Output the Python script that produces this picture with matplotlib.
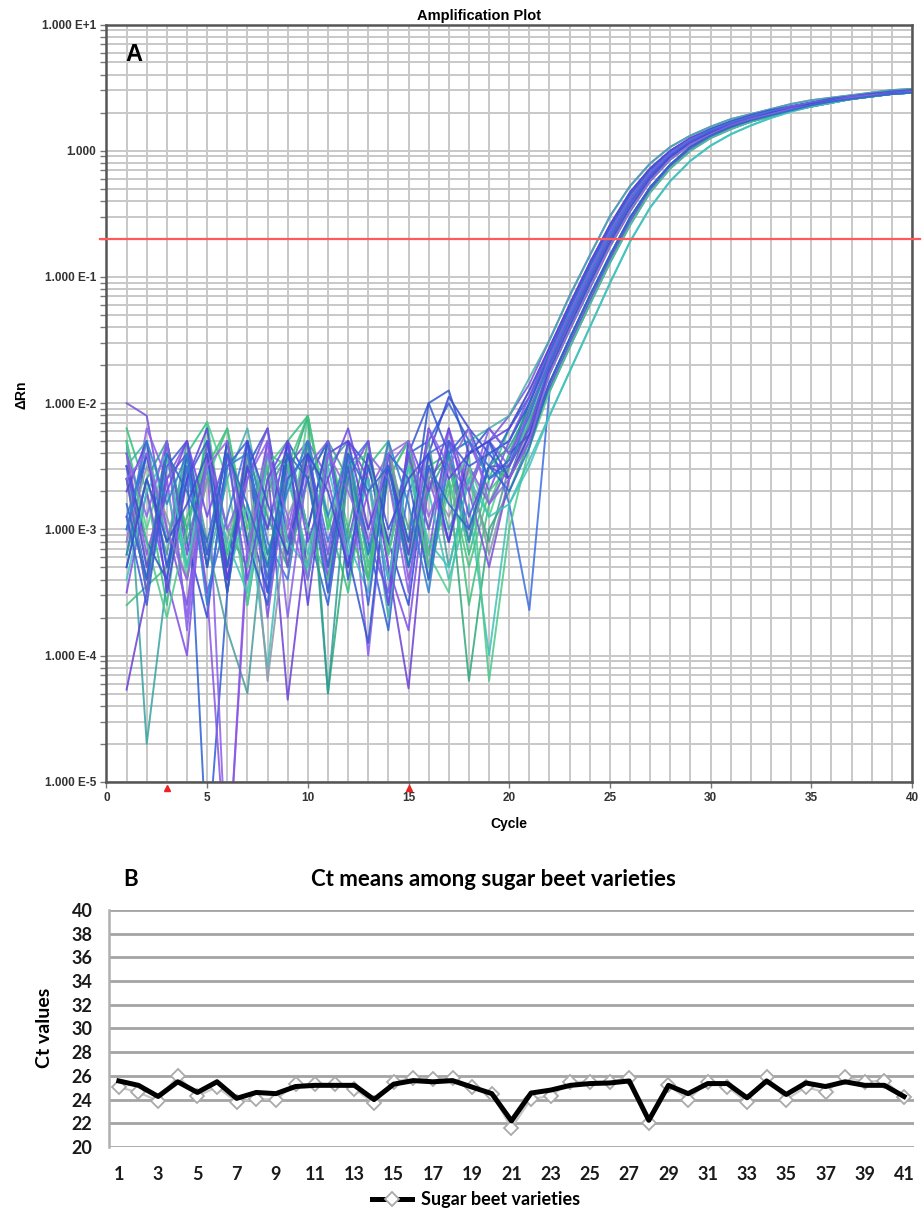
import matplotlib.pyplot as plt
import numpy as np
from matplotlib.lines import Line2D
from matplotlib.ticker import FixedLocator, LogLocator, NullFormatter

plt.rcParams['font.family'] = ['Liberation Sans', 'DejaVu Sans']

# -------------------------------
# Panel A data: log10(dRn) per cycle
# -------------------------------
threshold = 0.2
baseline_start, baseline_end = 3, 15
a_xticks = list(range(0, 41, 5))
a_ylabels = ['1.000 E-5', '1.000 E-4', '1.000 E-3', '1.000 E-2',
             '1.000 E-1', '1.000', '1.000 E+1']

# cycles 1-21 (noisy baseline)
baseline_log = [
    [-2.0, -2.1, -3.0, -3.6, -2.4, -3.3, -2.3, -3.7, -2.5, -2.3, -3.4, -2.4, -3.1, -3.5, -2.3, -3.2, -2.2, -2.7, -2.3, -2.1, -1.85],
    [-2.2, -2.7, -3.6, -2.4, -2.15, -3.2, -2.4, -3.3, -2.3, -2.1, -2.9, -3.5, -2.5, -2.3, -3.3, -2.5, -2.4, -3.2, -2.6, -2.2, -1.9],
    [-3.2, -2.4, -3.1, -2.5, -5.6, -3.5, -2.5, -3.4, -2.3, -3.0, -3.6, -2.5, -3.1, -3.8, -2.4, -2.3, -2.0, -2.3, -2.5, -2.2, -1.95],
    [-2.3, -4.7, -3.4, -2.5, -3.2, -2.3, -3.6, -2.6, -2.4, -3.4, -2.5, -2.3, -3.3, -2.4, -3.2, -2.4, -3.0, -2.6, -2.4, -2.3, -2.0],
    [-3.1, -2.2, -2.6, -3.7, -2.4, -5.8, -3.1, -2.3, -3.0, -2.3, -3.4, -2.4, -4.0, -2.5, -2.3, -3.3, -2.5, -3.1, -2.3, -2.5, -2.05],
    [-2.3, -3.0, -2.4, -3.4, -2.15, -2.6, -3.6, -2.4, -3.2, -2.1, -3.0, -2.3, -3.3, -2.6, -2.3, -3.2, -3.5, -2.5, -2.9, -2.4, -2.1],
    [-2.6, -3.4, -2.3, -3.1, -3.7, -2.4, -2.9, -3.5, -2.3, -2.6, -3.3, -2.3, -2.5, -3.1, -3.6, -2.4, -1.95, -2.2, -2.4, -2.6, -2.15],
    [-3.3, -2.6, -3.2, -2.3, -3.1, -3.8, -4.3, -2.7, -2.4, -3.3, -2.3, -2.6, -3.4, -2.4, -3.0, -2.3, -3.3, -2.6, -3.1, -2.5, -2.2],
    [-4.27, -3.5, -2.6, -2.4, -3.3, -2.3, -3.1, -2.5, -4.35, -3.0, -2.3, -3.1, -2.4, -3.3, -4.26, -2.6, -2.4, -3.0, -2.5, -2.6, -2.25],
    [-2.4, -3.3, -2.4, -3.0, -2.3, -3.3, -2.4, -3.2, -2.6, -2.1, -4.3, -3.0, -2.3, -3.2, -2.4, -3.4, -2.6, -4.2, -3.0, -2.7, -2.3],
    [-2.9, -2.4, -3.3, -2.5, -3.5, -2.9, -2.3, -3.1, -3.4, -2.4, -3.1, -2.5, -2.3, -3.6, -2.7, -2.4, -2.3, -3.1, -2.3, -2.8, -3.64],
    [-2.5, -3.5, -2.7, -3.3, -2.5, -3.4, -2.8, -4.1, -2.6, -3.2, -2.4, -3.1, -3.5, -2.5, -3.2, -2.7, -3.4, -2.8, -4.0, -2.8, -2.45],
    [-2.5, -2.3, -3.1, -2.4, -3.3, -2.6, -2.2, -3.0, -2.5, -3.4, -2.3, -3.1, -2.6, -3.7, -2.4, -3.0, -2.4, -2.3, -2.2, -2.1, -1.8],
    [-3.5, -2.7, -3.4, -4.0, -2.3, -3.0, -3.3, -2.3, -3.1, -2.4, -3.5, -2.6, -2.3, -3.3, -3.8, -2.5, -3.1, -2.3, -2.7, -2.3, -1.95],
    [-3.6, -3.45, -3.3, -2.9, -2.5, -2.2, -3.1, -2.5, -3.3, -2.6, -2.3, -3.0, -3.4, -2.4, -3.1, -2.6, -2.4, -3.6, -2.8, -2.4, -2.0],
    [-3.0, -2.4, -3.3, -2.6, -2.3, -3.3, -2.5, -2.2, -3.1, -2.6, -2.3, -3.4, -2.5, -3.1, -2.4, -2.0, -2.4, -2.2, -2.6, -2.45, -2.0],
    [-2.4, -3.2, -2.6, -2.3, -3.5, -5.8, -3.2, -2.4, -3.1, -2.3, -2.6, -3.3, -2.7, -2.4, -3.4, -2.6, -3.1, -2.5, -2.8, -2.5, -2.05],
    [-3.2, -2.6, -2.3, -3.1, -2.5, -3.5, -2.4, -2.9, -3.3, -2.3, -4.3, -2.5, -3.2, -2.6, -3.3, -2.7, -2.4, -3.1, -2.5, -2.35, -2.05],
    [-2.6, -3.5, -2.4, -3.3, -2.6, -2.2, -3.0, -2.4, -2.5, -2.1, -3.0, -2.5, -3.4, -2.6, -2.3, -3.2, -2.6, -3.3, -2.7, -2.5, -2.15],
    [-3.1, -2.5, -2.9, -3.4, -2.6, -3.1, -2.4, -4.2, -2.9, -2.5, -3.3, -2.5, -3.0, -2.3, -3.2, -2.6, -2.9, -2.5, -3.2, -2.6, -2.2],
    [-2.5, -3.1, -3.4, -2.4, -3.3, -2.3, -3.1, -3.6, -2.4, -3.0, -2.3, -3.2, -3.9, -2.5, -3.1, -2.0, -1.9, -2.4, -2.2, -2.4, -2.25],
    [-2.6, -3.5, -2.3, -3.2, -2.4, -3.4, -2.6, -2.2, -3.3, -2.4, -3.2, -2.3, -2.6, -3.4, -2.4, -3.0, -2.3, -2.7, -3.3, -2.6, -2.3],
    [-2.3, -3.1, -3.7, -3.0, -2.4, -3.0, -3.3, -2.5, -2.3, -3.0, -3.4, -2.5, -2.4, -3.2, -2.5, -3.3, -2.7, -2.4, -4.2, -3.0, -2.35],
    [-3.4, -2.7, -2.4, -3.3, -2.5, -3.1, -3.5, -2.4, -3.1, -3.3, -2.5, -3.2, -2.6, -3.4, -2.5, -3.1, -3.3, -2.6, -2.9, -2.8, -2.5],
    [-2.7, -2.3, -3.5, -2.6, -2.2, -3.4, -2.5, -3.0, -2.3, -3.6, -2.4, -2.3, -3.0, -2.5, -3.2, -2.2, -2.6, -2.4, -2.3, -2.2, -1.9],
    [-2.9, -3.6, -2.5, -2.3, -3.2, -2.5, -2.3, -3.5, -2.6, -2.4, -3.3, -2.5, -3.6, -2.4, -2.6, -3.4, -2.3, -2.5, -2.4, -2.3, -2.0],
    [-2.4, -2.9, -2.3, -3.8, -2.4, -3.0, -2.6, -2.3, -3.7, -2.5, -2.3, -3.3, -2.4, -2.6, -3.5, -2.2, -2.5, -2.7, -2.2, -2.4, -2.1],
    [-3.0, -2.3, -2.8, -2.4, -3.6, -2.5, -2.4, -3.2, -2.7, -2.3, -2.9, -2.4, -3.2, -2.3, -2.8, -3.5, -2.4, -2.3, -2.6, -2.5, -2.1],
    [-2.5, -3.3, -2.7, -2.3, -2.9, -2.4, -3.4, -2.6, -2.3, -3.1, -2.6, -2.2, -2.8, -3.6, -2.3, -2.7, -2.2, -2.9, -2.5, -2.5, -2.2],
    [-3.3, -2.6, -3.1, -2.8, -2.4, -3.5, -2.3, -2.8, -3.2, -2.4, -2.7, -3.3, -2.4, -3.0, -2.6, -2.4, -3.1, -2.4, -2.3, -2.6, -2.25],
    [-2.6, -2.4, -3.0, -3.4, -2.5, -2.3, -3.2, -2.4, -2.9, -3.4, -2.4, -2.7, -3.1, -2.4, -2.3, -2.9, -2.5, -2.2, -2.8, -2.6, -2.3],
    [-2.8, -3.4, -2.4, -2.7, -3.1, -2.4, -2.8, -3.3, -2.4, -2.6, -3.5, -2.4, -2.7, -2.5, -3.3, -2.5, -2.8, -3.0, -2.5, -2.7, -2.35],
]

# cycles 22-40 (exponential phase and plateau)
growth_log = [
    [-1.50, -1.15, -0.83, -0.52, -0.28, -0.10, 0.03, 0.12, 0.19, 0.25, 0.29, 0.33, 0.37, 0.40, 0.42, 0.44, 0.46, 0.48, 0.49],
    [-1.56, -1.22, -0.89, -0.59, -0.33, -0.14, 0.00, 0.10, 0.17, 0.23, 0.28, 0.32, 0.35, 0.38, 0.41, 0.43, 0.45, 0.46, 0.48],
    [-1.60, -1.25, -0.92, -0.61, -0.35, -0.15, -0.01, 0.09, 0.17, 0.23, 0.28, 0.32, 0.35, 0.38, 0.41, 0.43, 0.45, 0.47, 0.48],
    [-1.63, -1.29, -0.96, -0.64, -0.38, -0.17, -0.02, 0.09, 0.16, 0.22, 0.27, 0.31, 0.35, 0.38, 0.40, 0.43, 0.44, 0.46, 0.47],
    [-1.67, -1.32, -0.99, -0.67, -0.40, -0.19, -0.03, 0.08, 0.16, 0.22, 0.27, 0.31, 0.34, 0.37, 0.40, 0.42, 0.44, 0.45, 0.47],
    [-1.70, -1.35, -1.02, -0.70, -0.42, -0.20, -0.04, 0.07, 0.15, 0.21, 0.26, 0.30, 0.34, 0.37, 0.40, 0.42, 0.44, 0.46, 0.47],
    [-1.74, -1.39, -1.05, -0.73, -0.45, -0.22, -0.05, 0.06, 0.14, 0.20, 0.25, 0.30, 0.33, 0.37, 0.39, 0.42, 0.44, 0.45, 0.47],
    [-1.77, -1.42, -1.09, -0.76, -0.48, -0.24, -0.07, 0.05, 0.13, 0.20, 0.25, 0.29, 0.33, 0.36, 0.39, 0.42, 0.44, 0.45, 0.47],
    [-1.84, -1.49, -1.15, -0.83, -0.53, -0.29, -0.11, 0.03, 0.12, 0.19, 0.24, 0.28, 0.32, 0.36, 0.39, 0.41, 0.43, 0.45, 0.46],
    [-1.88, -1.53, -1.19, -0.86, -0.56, -0.31, -0.12, 0.01, 0.11, 0.18, 0.23, 0.28, 0.32, 0.35, 0.38, 0.41, 0.43, 0.45, 0.46],
    [-1.91, -1.56, -1.22, -0.89, -0.59, -0.33, -0.14, 0.00, 0.10, 0.17, 0.23, 0.27, 0.32, 0.35, 0.38, 0.41, 0.43, 0.45, 0.46],
    [-2.10, -1.75, -1.40, -1.05, -0.72, -0.45, -0.24, -0.08, 0.04, 0.13, 0.20, 0.26, 0.31, 0.35, 0.38, 0.41, 0.43, 0.45, 0.46],
]
curve_growth = [0, 1, 2, 3, 4, 5, 6, 7, 8, 9, 10, 11,
                0, 1, 2, 3, 4, 5, 6, 7, 8, 9, 10, 11,
                1, 2, 3, 4, 5, 6, 7, 8]
curve_colors = ['#7a4fe0', '#2ec27e', '#2f5fd6', '#38a3a0', '#8b5cf0', '#4fd08f',
                '#3349d8', '#4a9a9a', '#6c3fd6', '#2fa878', '#3d6ee0', '#3fc0b8',
                '#44b0a8', '#7f4ee6', '#3cc07a', '#3658d2', '#8a55e0', '#2f9c96',
                '#45c47f', '#8a96a8', '#2f55cc', '#7650dc', '#4cc88a', '#40c4bc',
                '#5a3ee0', '#3a5ad8', '#8660e8', '#2e7fd0', '#6a48e4', '#3b4bd4',
                '#9068e0', '#2a6bc8']

# -------------------------------
# Panel B data: Ct means of 41 sugar beet varieties
# -------------------------------
varieties = list(range(1, 42))
ct_mean = [25.57, 25.2, 24.26, 25.5, 24.6, 25.5, 24.1, 24.6, 24.5, 25.1,
           25.2, 25.2, 25.2, 24.0, 25.3, 25.6, 25.5, 25.6, 25.05, 24.5,
           22.2, 24.55, 24.8, 25.2, 25.35, 25.4, 25.57, 22.25, 25.2, 24.5,
           25.35, 25.35, 24.15, 25.57, 24.43, 25.4, 25.1, 25.5, 25.2, 25.2,
           24.26]
ct_marker = [25.05, 24.6, 23.9, 26.0, 24.3, 25.05, 23.8, 24.05, 24.0, 25.3,
             25.3, 25.3, 24.9, 23.7, 25.5, 25.85, 25.7, 25.85, 25.05, 24.5,
             21.6, 24.05, 24.3, 25.5, 25.5, 25.5, 25.85, 22.05, 25.2, 24.0,
             25.5, 25.05, 23.8, 25.9, 24.0, 25.05, 24.6, 25.9, 25.5, 25.6,
             24.2]
b_yticks = list(range(20, 41, 2))
b_xticks = list(range(1, 42, 2))

fig = plt.figure(figsize=(9.24, 12.19), dpi=100)

# -------------------------------
# Panel A: amplification plot
# -------------------------------
axA = fig.add_axes([0.1152, 0.3587, 0.8718, 0.6212])
axA.set_yscale('log')
cycles = np.arange(1, 41)
for i, row in enumerate(baseline_log):
    vals = np.array(row + growth_log[curve_growth[i]])
    axA.plot(cycles, 10.0 ** vals, color=curve_colors[i], lw=1.4, alpha=0.85)

axA.axhline(threshold, xmin=-0.008, xmax=1.01, color='#ff5a5a', lw=1.6, clip_on=False, zorder=5)
axA.set_xlim(0, 40)
axA.set_ylim(1e-5, 1e1)
axA.set_xticks(a_xticks)
axA.set_xticks(range(0, 41), minor=True)
axA.yaxis.set_major_locator(FixedLocator([10.0 ** k for k in range(-5, 2)]))
axA.yaxis.set_minor_locator(LogLocator(base=10, subs=range(2, 10)))
axA.yaxis.set_minor_formatter(NullFormatter())
axA.set_yticklabels(a_ylabels)
axA.grid(True, which='both', color='#c8c8c8', lw=1.4)
axA.set_axisbelow(True)
for s in axA.spines.values():
    s.set_color('#555555')
    s.set_linewidth(1.8)
axA.tick_params(axis='both', which='both', colors='#777777', length=4, width=1,
                labelsize=8.5, labelcolor='#333333')
axA.tick_params(axis='x', which='minor', length=0)
for lab in axA.get_xticklabels() + axA.get_yticklabels():
    lab.set_fontweight('bold')

# baseline start/end flags
for bx in (baseline_start, baseline_end):
    axA.plot([bx], [-0.008], transform=axA.get_xaxis_transform(), marker='^', ms=5,
             color='#ee2222', clip_on=False, zorder=6)

fig.text(0.518, 1 - 23 / 1219, 'Amplification Plot', ha='center', va='bottom',
         fontsize=10.5, fontweight='bold')
axA.text(0.023, 0.975, 'A', transform=axA.transAxes, ha='left', va='top',
         fontsize=17, fontweight='bold')
fig.text(22 / 924, 1 - 395 / 1219, 'ΔRn', rotation=90, ha='center', va='center',
         fontsize=10, fontweight='bold')
fig.text(509 / 924, 1 - 824 / 1219, 'Cycle', ha='center', va='center',
         fontsize=10, fontweight='bold')

# -------------------------------
# Panel B: Ct means
# -------------------------------
axB = fig.add_axes([0.118, 0.0591, 0.871, 0.1944])
axB.plot(varieties, ct_marker, color='#c8c8c8', lw=1.5, marker='D', ms=7,
         mfc='white', mec='#aaaaaa', mew=1.3, zorder=3)
axB.plot(varieties, ct_mean, color='black', lw=3.6, zorder=4)
axB.set_xlim(0.5, 41.5)
axB.set_ylim(20, 40)
axB.set_yticks(b_yticks)
axB.set_xticks(b_xticks)
axB.grid(True, axis='y', color='#a4a4a4', lw=2.0)
axB.set_axisbelow(True)
for side in ('top', 'right', 'bottom'):
    axB.spines[side].set_visible(False)
axB.spines['left'].set_color('#b0b0b0')
axB.spines['left'].set_linewidth(1.8)
axB.tick_params(length=0, labelsize=13, labelcolor='#1a1a1a')
axB.tick_params(axis='y', pad=12)
axB.tick_params(axis='x', pad=14)
for lab in axB.get_xticklabels() + axB.get_yticklabels():
    lab.set_fontweight('bold')
    lab.set_family(['Lato', 'DejaVu Sans'])

fig.text(493 / 924, 1 - 880 / 1219, 'Ct means among sugar beet varieties',
         ha='center', va='center', fontsize=16, fontweight='bold', family=['Lato', 'DejaVu Sans'])
fig.text(123 / 924, 1 - 879 / 1219, 'B', ha='left', va='center',
         fontsize=16, fontweight='bold', family=['Lato', 'DejaVu Sans'])
fig.text(44 / 924, 1 - 1028 / 1219, 'Ct values', rotation=90, ha='center', va='center',
         fontsize=14, fontweight='bold', family=['Lato', 'DejaVu Sans'])

handle = Line2D([], [], color='black', lw=3.6, marker='D', ms=7, mfc='white',
                mec='#aaaaaa', mew=1.3)
fig.legend([handle], ['Sugar beet varieties'], loc='center', bbox_to_anchor=(0.515, 0.0156),
           frameon=False, handlelength=2.2, handletextpad=0.5,
           prop={'family': ['Lato', 'DejaVu Sans'], 'weight': 'bold', 'size': 13})

fig.savefig('out.png', dpi=100)
